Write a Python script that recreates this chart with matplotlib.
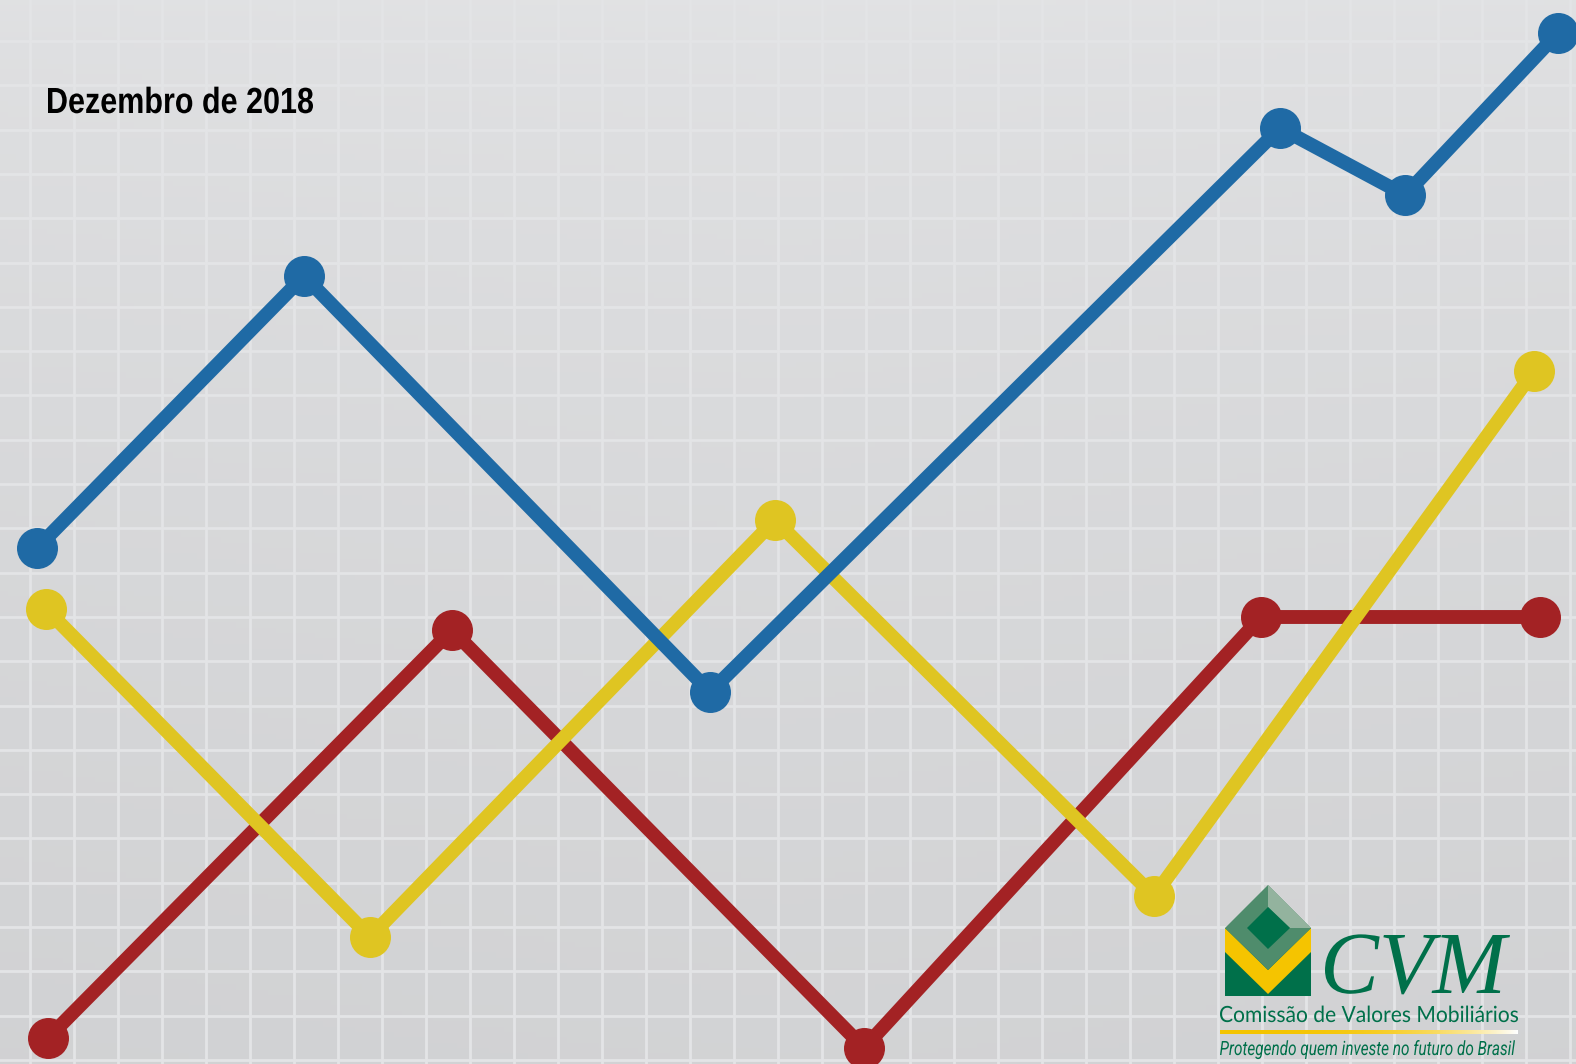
import numpy as np
import matplotlib.pyplot as plt
from matplotlib.patches import Polygon, PathPatch
from matplotlib.textpath import TextPath
from matplotlib.font_manager import FontProperties
from matplotlib.transforms import Affine2D

# --- DATA (image pixel space) ---
blue_x = [37, 304, 710, 1280, 1405, 1558]
blue_y = [548, 276, 692, 128, 195, 33]
yellow_x = [46, 370, 775, 1154, 1534]
yellow_y = [609, 937, 520, 896, 371]
red_x = [48, 452, 864, 1261, 1540]
red_y = [1038, 630, 1048, 617, 617]

title = "Dezembro de 2018"
logo_name = "CVM"
logo_sub = "Comissão de Valores Mobiliários"
logo_tag = "Protegendo quem investe no futuro do Brasil"

W, H = 1576, 1064
GREEN = '#00704a'

fig = plt.figure(figsize=(W / 100, H / 100), dpi=100)
ax = fig.add_axes([0, 0, 1, 1])
ax.set_xlim(0, W)
ax.set_ylim(H, 0)
ax.axis('off')


def fit_text(s, x0, x1, baseline, cap_h, color, family='Roboto',
             weight='normal', style='normal', z=8):
    # draw text as a path squeezed into the box the reference shows
    prop = FontProperties(family=family, weight=weight, style=style)
    tp = TextPath((0, 0), s, size=100, prop=prop)
    cap = TextPath((0, 0), 'H', size=100, prop=prop).get_extents().height
    bb = tp.get_extents()
    tr = (Affine2D().translate(-bb.x0, 0)
          .scale((x1 - x0) / bb.width, -cap_h / cap)
          .translate(x0, baseline))
    ax.add_patch(PathPatch(tr.transform_path(tp), fc=color, ec='none', lw=0, zorder=z))


# background: soft grey gradient, lighter at the top
yy = np.linspace(0, 1, 200)[:, None]
xx = np.linspace(0, 1, 200)[None, :]
shade = 0.885 - 0.06 * yy ** 0.7 - 0.01 * np.abs(xx - 0.5)
ax.imshow(np.dstack([shade, shade + 0.003, shade + 0.01]).clip(0, 1),
          extent=(0, W, H, 0), aspect='auto', zorder=0)

# graph paper grid
for gx in np.arange(30, W, 44):
    ax.axvline(gx, color='#e3e4e6', lw=2.0, zorder=1)
for gy in np.arange(41, H, 44.3):
    ax.axhline(gy, color='#e3e4e6', lw=2.0, zorder=1)

# series
for xs, ys, c in [(red_x, red_y, '#a32224'),
                  (yellow_x, yellow_y, '#dfc522'),
                  (blue_x, blue_y, '#1f6aa5')]:
    ax.plot(xs, ys, color=c, lw=10, marker='o', ms=28.5,
            solid_capstyle='round', zorder=3)

fit_text(title, 48, 313, 113, 25, 'black', family='Liberation Sans', weight='bold', z=5)

# --- CVM logo ---
cx, top, mid, bot = 1268, 885, 928, 996
left, right = 1225, 1311
ax.add_patch(Polygon([(left, mid), (right, mid), (right, bot), (left, bot)],
                     closed=True, fc=GREEN, ec='none', zorder=5))
ax.add_patch(Polygon([(left, mid), (cx, 970), (right, mid), (right, 952),
                      (cx, 994), (left, 952)],
                     closed=True, fc='#f5c400', ec='none', zorder=6))
ax.add_patch(Polygon([(left, mid), (cx, top), (right, mid), (cx, 970)],
                     closed=True, fc='#4f8c6c', ec='none', zorder=6))
ax.add_patch(Polygon([(cx, top), (right, mid), (1290, mid), (cx, 907)],
                     closed=True, fc='#93b39e', ec='none', zorder=7))
ax.add_patch(Polygon([(1247, mid), (cx, 907), (1290, mid), (cx, 949)],
                     closed=True, fc=GREEN, ec='none', zorder=8))

fit_text(logo_name, 1325, 1510, 993, 58, GREEN, family='Liberation Serif', style='italic')
fit_text(logo_sub, 1220, 1518, 1022, 16, GREEN, family='Lato')

# fading yellow rule
grad = np.linspace(0, 1, 256)
rule = np.ones((1, 256, 4))
rule[0, :, 0] = 0.96 + 0.04 * grad ** 3
rule[0, :, 1] = 0.77 + 0.23 * grad ** 3
rule[0, :, 2] = 0.0 + 1.0 * grad ** 3
ax.imshow(rule, extent=(1220, 1518, 1034, 1030), aspect='auto', zorder=8)

fit_text(logo_tag, 1220, 1515, 1055, 14, GREEN, family='Roboto', style='italic')

ax.set_xlim(0, W)
ax.set_ylim(H, 0)
fig.savefig('out.png', dpi=100)
